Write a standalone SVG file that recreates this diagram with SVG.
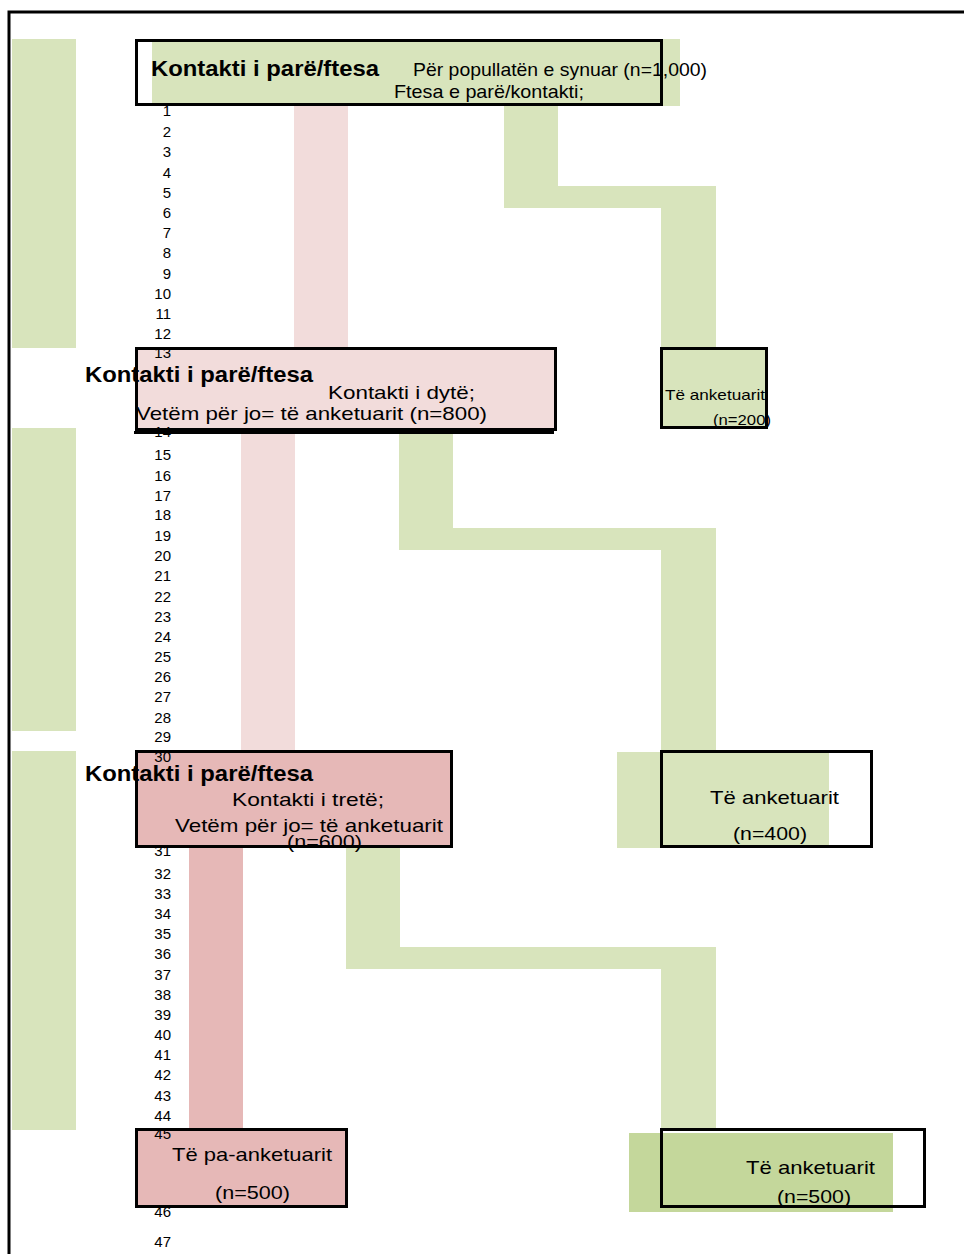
<svg xmlns="http://www.w3.org/2000/svg" width="964" height="1254" viewBox="0 0 964 1254">
<style>
.g{fill:#d8e4bc}
.g2{fill:#c4d79b}
.p{fill:#f2dcdb}
.p2{fill:#e6b8b7}
.b{fill:none;stroke:#000;stroke-width:3}
text{font-family:"Liberation Sans","DejaVu Sans",sans-serif;fill:#000}
.h{font-weight:bold;font-size:22px}
.t{font-size:19px}
.s{font-size:14.5px}
.n{font-size:15px;text-anchor:end}
</style>
<rect width="964" height="1254" fill="#fff"/>
<path d="M9,1254 V12 H964" fill="none" stroke="#000" stroke-width="3"/>
<g id="side-bars">
<rect class="g" x="12" y="39" width="64" height="309"/>
<rect class="g" x="12" y="428" width="64" height="303"/>
<rect class="g" x="12" y="751" width="64" height="379"/>
</g>
<g id="connectors">
<rect class="p" x="294" y="106" width="54" height="241"/>
<polygon class="g" points="504,106 558,106 558,186 716,186 716,347 661,347 661,208 504,208"/>
<rect class="p" x="241" y="432" width="54" height="318"/>
<polygon class="g" points="399,432 453,432 453,528 716,528 716,750 661,750 661,550 399,550"/>
<rect class="p2" x="189" y="847" width="54" height="282"/>
<polygon class="g" points="346,847 400,847 400,947 716,947 716,1130 661,1130 661,969 346,969"/>
</g>
<g id="node-start">
<rect class="g" x="152" y="39" width="528" height="67"/>
<rect class="b" x="136.5" y="40.5" width="525" height="64"/>
</g>
<g id="node-second">
<rect class="p" x="136" y="348" width="420" height="82"/>
<rect class="b" x="136.5" y="348.5" width="419" height="81"/>
<line x1="134" y1="432.5" x2="554" y2="432.5" stroke="#000" stroke-width="3"/>
</g>
<g id="node-resp200">
<rect class="g" x="661" y="348" width="106" height="80"/>
<rect class="b" x="661.5" y="348.5" width="105" height="79"/>
</g>
<g id="node-third">
<rect class="p2" x="136" y="751" width="316" height="96"/>
<rect class="b" x="136.5" y="751.5" width="315" height="95"/>
</g>
<g id="node-resp400">
<rect class="g" x="617" y="752" width="212" height="96"/>
<rect class="b" x="661.5" y="751.5" width="210" height="95"/>
</g>
<g id="node-nonresp500">
<rect class="p2" x="136" y="1129" width="211" height="78"/>
<rect class="b" x="136.5" y="1129.5" width="210" height="77"/>
</g>
<g id="node-resp500">
<rect class="g2" x="629" y="1133" width="264" height="79"/>
<rect class="b" x="661.5" y="1129.5" width="263" height="77"/>
</g>
<g id="row-numbers">
<text class="n" x="171" y="116">1</text>
<text class="n" x="171" y="137">2</text>
<text class="n" x="171" y="157">3</text>
<text class="n" x="171" y="178">4</text>
<text class="n" x="171" y="198">5</text>
<text class="n" x="171" y="218">6</text>
<text class="n" x="171" y="238">7</text>
<text class="n" x="171" y="258">8</text>
<text class="n" x="171" y="279">9</text>
<text class="n" x="171" y="299">10</text>
<text class="n" x="171" y="319">11</text>
<text class="n" x="171" y="339">12</text>
<text class="n" x="171" y="358">13</text>
<text class="n" x="171" y="437">14</text>
<text class="n" x="171" y="460">15</text>
<text class="n" x="171" y="481">16</text>
<text class="n" x="171" y="501">17</text>
<text class="n" x="171" y="520">18</text>
<text class="n" x="171" y="541">19</text>
<text class="n" x="171" y="561">20</text>
<text class="n" x="171" y="581">21</text>
<text class="n" x="171" y="602">22</text>
<text class="n" x="171" y="622">23</text>
<text class="n" x="171" y="642">24</text>
<text class="n" x="171" y="662">25</text>
<text class="n" x="171" y="682">26</text>
<text class="n" x="171" y="702">27</text>
<text class="n" x="171" y="723">28</text>
<text class="n" x="171" y="742">29</text>
<text class="n" x="171" y="762">30</text>
<text class="n" x="171" y="856">31</text>
<text class="n" x="171" y="879">32</text>
<text class="n" x="171" y="899">33</text>
<text class="n" x="171" y="919">34</text>
<text class="n" x="171" y="939">35</text>
<text class="n" x="171" y="959">36</text>
<text class="n" x="171" y="980">37</text>
<text class="n" x="171" y="1000">38</text>
<text class="n" x="171" y="1020">39</text>
<text class="n" x="171" y="1040">40</text>
<text class="n" x="171" y="1060">41</text>
<text class="n" x="171" y="1080">42</text>
<text class="n" x="171" y="1101">43</text>
<text class="n" x="171" y="1121">44</text>
<text class="n" x="171" y="1139">45</text>
<text class="n" x="171" y="1217">46</text>
<text class="n" x="171" y="1247">47</text>
</g>
<g id="labels">
<text class="h" x="151" y="76" textLength="228" lengthAdjust="spacingAndGlyphs">Kontakti i parë/ftesa</text>
<text class="t" x="413" y="76" textLength="294" lengthAdjust="spacingAndGlyphs">Për popullatën e synuar (n=1,000)</text>
<text class="t" x="394" y="98" textLength="190" lengthAdjust="spacingAndGlyphs">Ftesa e parë/kontakti;</text>
<text class="h" x="85" y="382" textLength="228" lengthAdjust="spacingAndGlyphs">Kontakti i parë/ftesa</text>
<text class="t" x="328" y="399" textLength="147" lengthAdjust="spacingAndGlyphs">Kontakti i dytë;</text>
<text class="t" x="136" y="420" textLength="351" lengthAdjust="spacingAndGlyphs">Vetëm për jo= të anketuarit (n=800)</text>
<text class="s" x="665" y="400" textLength="100" lengthAdjust="spacingAndGlyphs">Të anketuarit</text>
<text class="s" x="713" y="425" textLength="58" lengthAdjust="spacingAndGlyphs">(n=200)</text>
<text class="h" x="85" y="781" textLength="228" lengthAdjust="spacingAndGlyphs">Kontakti i parë/ftesa</text>
<text class="t" x="232" y="806" textLength="152" lengthAdjust="spacingAndGlyphs">Kontakti i tretë;</text>
<text class="t" x="175" y="832" textLength="268" lengthAdjust="spacingAndGlyphs">Vetëm për jo= të anketuarit</text>
<text class="t" x="287" y="848" textLength="75" lengthAdjust="spacingAndGlyphs">(n=600)</text>
<text class="t" x="710" y="804" textLength="129" lengthAdjust="spacingAndGlyphs">Të anketuarit</text>
<text class="t" x="733" y="840" textLength="74" lengthAdjust="spacingAndGlyphs">(n=400)</text>
<text class="t" x="172" y="1161" textLength="160" lengthAdjust="spacingAndGlyphs">Të pa-anketuarit</text>
<text class="t" x="215" y="1199" textLength="75" lengthAdjust="spacingAndGlyphs">(n=500)</text>
<text class="t" x="746" y="1174" textLength="129" lengthAdjust="spacingAndGlyphs">Të anketuarit</text>
<text class="t" x="777" y="1203" textLength="74" lengthAdjust="spacingAndGlyphs">(n=500)</text>
</g>
</svg>
